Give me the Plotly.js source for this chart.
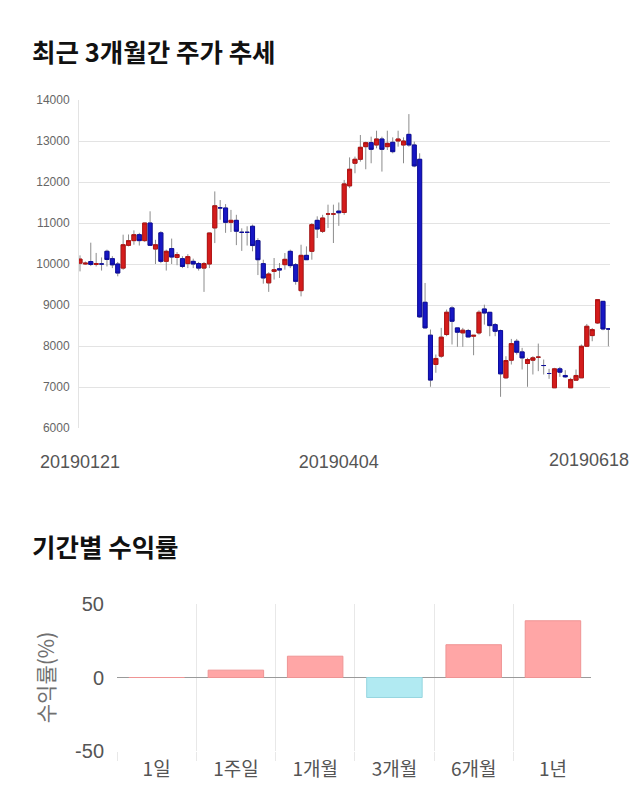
<!DOCTYPE html>
<html><head><meta charset="utf-8">
<script src="https://cdn.plot.ly/plotly-3.0.1.min.js"></script>
<style>html,body{margin:0;padding:0;background:#fff;}#chart{width:640px;height:810px;}</style>
</head><body><div id="chart"></div>
<script>
const dates = ['20190121','20190122','20190123','20190124','20190125','20190128','20190129','20190130','20190131',
'20190207','20190208','20190211','20190212','20190213','20190214','20190215','20190218','20190219','20190220','20190221','20190222','20190225','20190226','20190227','20190228',
'20190304','20190305','20190306','20190307','20190308','20190311','20190312','20190313','20190314','20190315','20190318','20190319','20190320','20190321','20190322','20190325','20190326','20190327','20190328','20190329',
'20190401','20190402','20190403','20190404','20190405','20190408','20190409','20190410','20190411','20190412','20190415','20190416','20190417','20190418','20190419','20190422','20190423','20190424','20190425','20190426','20190429','20190430',
'20190502','20190503','20190507','20190508','20190509','20190510','20190513','20190514','20190515','20190516','20190517','20190520','20190521','20190522','20190523','20190524','20190527','20190528','20190529','20190530','20190531',
'20190603','20190604','20190605','20190607','20190610','20190611','20190612','20190613','20190614','20190617','20190618'];

const openP = [10020,10000,10060,9990,10000,10310,10130,10000,9900,10455,10570,10715,10570,11000,10365,10760,10065,10375,10160,10130,10010,10065,10010,9900,10000,
10880,11370,11366,11016,11065,10772,10772,10920,10570,10008,9540,9820,9886,9984,10309,9984,9350,10211,10309,11065,10797,11220,11220,11290,11256,
11905,12457,12554,12862,12960,12903,13049,12862,12968,13000,12903,13162,12903,12554,9066,8264,7550,7753,8280,8929,8442,8320,8376,8240,8319,
8903,8822,8521,8376,7224,7654,8116,7856,7573,7654,7727,7524,7329,6981,7443,7281,6981,7167,7224,7994,8254,8562,9089,8416];
const highP = [10210,10060,10520,10270,10160,10350,10190,10050,10715,10720,10820,10760,11000,11285,10590,10800,10350,10620,10290,10190,10240,10130,10050,10050,10760,
11770,11560,11460,11320,11200,10870,10920,10960,10630,10105,9800,10146,10024,10268,10350,10024,10470,10430,11000,11163,11200,11447,11447,11500,12050,
12600,12619,13146,12984,13105,13251,13105,13251,13089,13251,13089,13656,12984,12700,9537,8402,7793,8442,8888,8970,8442,8442,8416,8260,8870,
9008,8822,8562,8400,7751,8173,8173,7954,7711,7751,8059,7670,7443,7467,7491,7410,7224,7427,8035,8538,8440,9146,9089,8440];
const lowP = [9820,9980,9950,9940,9840,9940,9900,9700,9860,10430,10470,10450,10540,10440,10000,10020,9840,10000,9970,9900,9900,9900,9840,9320,9900,
10510,11080,10760,10780,10460,10320,10450,10310,9730,9520,9320,9620,9660,9862,9900,9496,9211,10105,10105,10634,10756,10878,10512,10930,11200,
11850,12213,12497,12311,12457,12822,12254,12781,12700,12862,12457,12862,12360,8685,8426,7006,7347,7712,8240,8037,7980,7980,8221,7775,8278,
8521,8238,8238,6761,7200,7548,7792,7427,7005,7305,7386,7305,7200,6981,7248,7224,6981,7167,7224,7978,8116,8538,8384,7994];
const closeP = [10120,10020,9990,10010,10000,10110,9980,9780,10470,10570,10715,10570,11000,10455,10470,10065,10310,10170,10230,9940,10180,10000,9900,10010,10756,
11420,11370,11016,11065,10800,10772,10772,10450,10105,9660,9756,9860,9854,10114,9960,9577,10211,10105,10960,10853,11122,11220,11220,11250,11954,
12311,12554,12846,12960,12797,13049,12797,12943,12740,13049,13000,12903,12392,8710,8442,7169,7696,8215,8823,8604,8337,8385,8221,8260,8822,
8805,8497,8359,7321,7646,8059,7848,7710,7670,7711,7727,7524,7329,7443,7362,7248,7184,7281,7994,8481,8400,9130,8416,8416];

const priceTicks = [6000,7000,8000,9000,10000,11000,12000,13000,14000];
const dateTicks = ['20190121','20190404','20190618'];

const periodLabels = ['1일','1주일','1개월','3개월','6개월','1년'];
const periodReturns = [0, 5.0, 14.5, -13.6, 22.3, 38.6];
const returnTicks = [-50, 0, 50];

const chartTitle = '최근 3개월간 주가 추세';
const returnTitle = '기간별 수익률';
const returnAxisTitle = '수익률(%)';

const KR = '"Noto Sans CJK KR", "Noto Sans", sans-serif';
const NUM = '"Liberation Sans", Arial, "Noto Sans CJK KR", sans-serif';

const bodyHigh = openP.map((o, i) => Math.max(o, closeP[i]));
const bodyLow = openP.map((o, i) => Math.min(o, closeP[i]));

const wicks = {
  type: 'candlestick', x: dates, open: openP, high: highP, low: lowP, close: closeP,
  xaxis: 'x', yaxis: 'y',
  increasing: {line: {color: '#8c8c8c', width: 1}, fillcolor: '#8c8c8c'},
  decreasing: {line: {color: '#8c8c8c', width: 1}, fillcolor: '#8c8c8c'},
  whiskerwidth: 0, hoverinfo: 'skip', showlegend: false
};
const bodies = {
  type: 'candlestick', x: dates, open: openP, high: bodyHigh, low: bodyLow, close: closeP,
  xaxis: 'x', yaxis: 'y',
  increasing: {line: {color: '#b31313', width: 1}, fillcolor: '#d41c1c'},
  decreasing: {line: {color: '#0d0d9e', width: 1}, fillcolor: '#1717c4'},
  whiskerwidth: 0, showlegend: false
};
const bars = {
  type: 'bar', x: periodLabels, y: periodReturns, xaxis: 'x2', yaxis: 'y2', width: 0.7,
  marker: {
    color: periodReturns.map(v => v >= 0 ? '#ffa6a6' : '#b1eaf2'),
    line: {color: periodReturns.map(v => v >= 0 ? '#ef9494' : '#96d6e0'), width: 1}
  },
  showlegend: false
};

const H = 810, W = 640;
const lastIdx = dates.indexOf(dateTicks[2]);
const layout = {
  width: W, height: H,
  margin: {l: 0, r: 0, t: 0, b: 0},
  paper_bgcolor: '#ffffff', plot_bgcolor: '#ffffff',
  showlegend: false,
  boxgap: 0.25, boxgroupgap: 0,
  xaxis: {
    domain: [79 / W, 610 / W], anchor: 'y', type: 'category',
    range: [-0.185, 98.3],
    rangeslider: {visible: false},
    tickvals: dateTicks.slice(0, 2), ticktext: dateTicks.slice(0, 2),
    showgrid: false, zeroline: false, showline: false, ticks: '',
    ticklabelstandoff: 21,
    tickfont: {family: NUM, size: 18, color: '#555555'}
  },
  yaxis: {
    domain: [1 - 428 / H, 1 - 100 / H], anchor: 'x',
    range: [6000, 14000], tickvals: priceTicks, ticktext: priceTicks.map(String),
    showgrid: true, gridcolor: '#e3e3e3', gridwidth: 1,
    zeroline: false, showline: true, linecolor: '#e3e3e3', linewidth: 1, ticks: '',
    ticklabelstandoff: 6,
    tickfont: {family: NUM, size: 12, color: '#666666'}
  },
  xaxis2: {
    domain: [117 / W, 591 / W], anchor: 'y2', type: 'category',
    range: [-0.5, 5.48],
    tickson: 'boundaries', showgrid: true, gridcolor: '#e8e8e8', gridwidth: 1,
    ticks: 'outside', ticklen: 9, tickcolor: '#e8e8e8',
    ticklabelstandoff: 5,
    zeroline: false, showline: false,
    tickfont: {family: KR, size: 19, color: '#555555'}
  },
  yaxis2: {
    domain: [1 - 751 / H, 1 - 604 / H], anchor: 'x2',
    range: [-50, 50], tickvals: returnTicks, ticktext: returnTicks.map(String),
    showgrid: true, gridcolor: '#e3e3e3', gridwidth: 1,
    zeroline: true, zerolinecolor: '#9a9a9a', zerolinewidth: 1,
    showline: false, ticks: '', ticklabelstandoff: 12,
    tickfont: {family: NUM, size: 20, color: '#555555'},
    title: {text: returnAxisTitle, font: {family: KR, size: 21, color: '#707070'}, standoff: 14}
  },
  annotations: [
    {text: '<b>' + chartTitle + '</b>', xref: 'paper', yref: 'paper', x: 30 / W, y: 1 - 50 / H,
     xanchor: 'left', yanchor: 'middle', showarrow: false, font: {family: KR, size: 25.5, color: '#111111'}},
    {text: '<b>' + returnTitle + '</b>', xref: 'paper', yref: 'paper', x: 30 / W, y: 1 - 545 / H,
     xanchor: 'left', yanchor: 'middle', showarrow: false, font: {family: KR, size: 25.5, color: '#111111'}},
    {text: dateTicks[2], xref: 'x', yref: 'paper', x: lastIdx, y: 1 - 460 / H, xshift: -19,
     xanchor: 'center', yanchor: 'middle', showarrow: false, font: {family: NUM, size: 18, color: '#555555'}}
  ]
};

Plotly.newPlot('chart', [wicks, bodies, bars], layout, {staticPlot: true, displayModeBar: false});
</script>
</body></html>
